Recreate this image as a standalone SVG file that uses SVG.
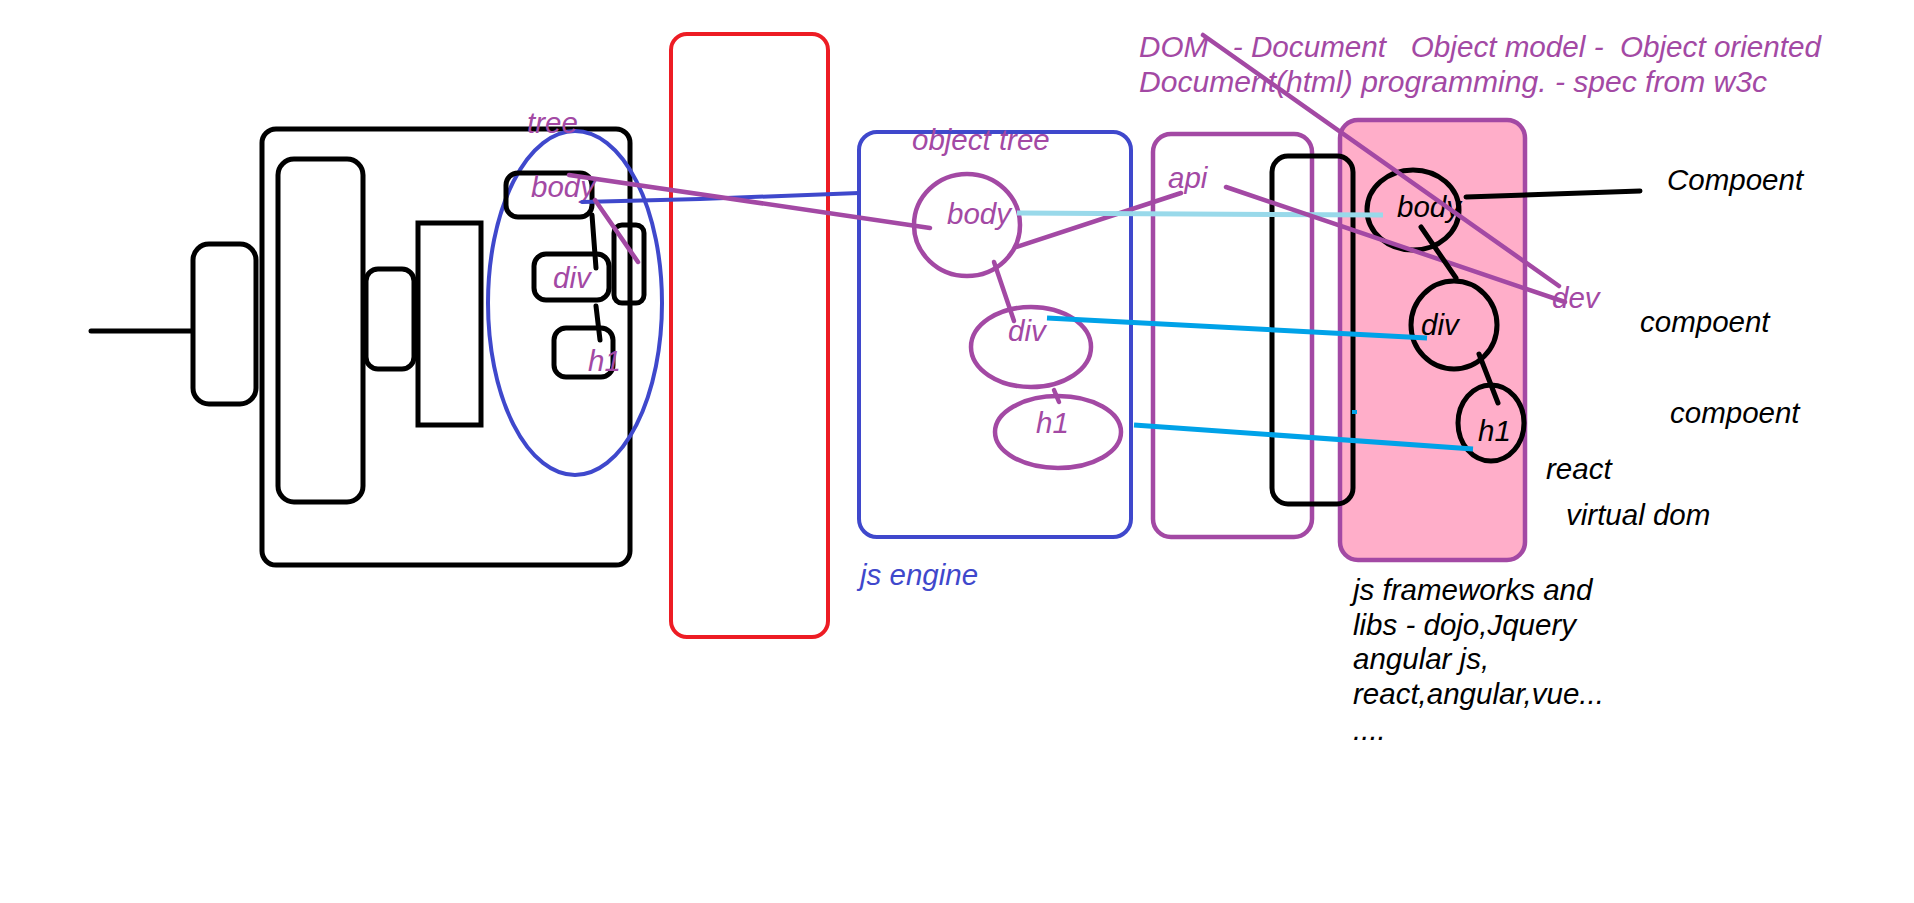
<svg xmlns="http://www.w3.org/2000/svg" width="1914" height="903" viewBox="0 0 1914 903">
<style>
text{font-family:"Liberation Sans",Arial,sans-serif;font-style:italic;font-size:29.5px}
.k{fill:none;stroke:#000;stroke-width:5;stroke-linecap:round}
.p{fill:none;stroke:#A349A4;stroke-width:4.5;stroke-linecap:round}
.b{fill:none;stroke:#3F48CC;stroke-width:4;stroke-linecap:round}
.r{fill:none;stroke:#ED1C24;stroke-width:4}
.tp{fill:#A349A4}
.tk{fill:#000}
.tb{fill:#3F48CC}
</style>
<rect width="1914" height="903" fill="#fff"/>
<g id="browser">
<rect class="k" x="262" y="129" width="368" height="436" rx="14"/>
<rect class="k" x="193" y="244" width="63" height="160" rx="16"/>
<rect class="k" x="278" y="159" width="85" height="343" rx="16"/>
<rect class="k" x="366" y="269" width="48" height="100" rx="12"/>
<rect class="k" x="418" y="223" width="63" height="202"/>
<rect class="k" x="614" y="225" width="30" height="78" rx="8"/>
</g>
<g id="dom-tree">
<ellipse class="b" cx="575" cy="303" rx="87" ry="172"/>
<text class="tp" x="527" y="133">tree</text>
</g>
<g id="body-node">
<rect class="k" x="506" y="173" width="86" height="44" rx="12"/>
<text class="tp" x="531" y="197">body</text>
</g>
<g id="div-node">
<rect class="k" x="534" y="254" width="75" height="46" rx="12"/>
<text class="tp" x="553" y="288">div</text>
</g>
<g id="h1-node">
<rect class="k" x="554" y="328" width="59" height="49" rx="12"/>
<text class="tp" x="588" y="371">h1</text>
</g>
<g id="red-box">
<rect class="r" x="671" y="34" width="157" height="603" rx="16"/>
</g>
<g id="js-engine">
<rect class="b" x="859" y="132" width="272" height="405" rx="18"/>
<text class="tp" x="912" y="150">object tree</text>
<text class="tb" x="860" y="585">js engine</text>
</g>
<g id="obj-body">
<ellipse class="p" cx="967" cy="225" rx="53" ry="51"/>
<text class="tp" x="947" y="224">body</text>
</g>
<g id="obj-div">
<ellipse class="p" cx="1031" cy="347" rx="60" ry="40"/>
<text class="tp" x="1008" y="341">div</text>
</g>
<g id="obj-h1">
<ellipse class="p" cx="1058" cy="432" rx="63" ry="36"/>
<text class="tp" x="1036" y="433">h1</text>
</g>
<g id="api">
<rect class="p" x="1153" y="134" width="159" height="403" rx="18"/>
<text class="tp" x="1168" y="188">api</text>
</g>
<g id="frameworks">
<rect x="1340" y="120" width="185" height="440" rx="18" fill="#FFAEC9" stroke="#A349A4" stroke-width="4.5"/>
</g>
<g id="api-layer">
<rect class="k" x="1272" y="156" width="81" height="348" rx="16"/>
</g>
<g id="v-body">
<ellipse class="k" cx="1413" cy="210" rx="46" ry="40"/>
<text class="tk" x="1397" y="217">body</text>
</g>
<g id="v-div">
<ellipse class="k" cx="1454" cy="325" rx="43" ry="44"/>
<text class="tk" x="1421" y="335">div</text>
</g>
<g id="v-h1">
<ellipse class="k" cx="1491" cy="423" rx="33" ry="38"/>
<text class="tk" x="1478" y="441">h1</text>
</g>
<g id="dom-note">
<text class="tp" x="1139" y="57" xml:space="preserve" textLength="682" lengthAdjust="spacingAndGlyphs">DOM   - Document   Object model -  Object oriented</text>
<text class="tp" x="1139" y="92" textLength="628" lengthAdjust="spacingAndGlyphs">Document(html) programming. - spec from w3c</text>
</g>
<g id="dev">
<text class="tp" x="1552" y="308">dev</text>
</g>
<g id="labels">
<text class="tk" x="1667" y="190">Compoent</text>
<text class="tk" x="1640" y="332">compoent</text>
<text class="tk" x="1670" y="423">compoent</text>
<text class="tk" x="1546" y="479">react</text>
<text class="tk" x="1566" y="525">virtual dom</text>
<text class="tk" x="1353" y="600">js frameworks and</text>
<text class="tk" x="1353" y="635">libs - dojo,Jquery</text>
<text class="tk" x="1353" y="669">angular js,</text>
<text class="tk" x="1353" y="704">react,angular,vue...</text>
<text class="tk" x="1353" y="740">....</text>
</g>
<g id="connectors">
<line class="k" x1="91" y1="331" x2="192" y2="331"/>
<line class="k" x1="592" y1="215" x2="596" y2="268"/>
<line class="k" x1="596" y1="306" x2="600" y2="340"/>
<polyline class="b" points="582,202 700,199 859,193"/>
<line class="p" x1="569" y1="175" x2="930" y2="228"/>
<line class="p" x1="595" y1="200" x2="638" y2="262"/>
<line class="p" x1="1016" y1="247" x2="1181" y2="193"/>
<line class="p" x1="994" y1="262" x2="1014" y2="321"/>
<line class="p" x1="1054" y1="390" x2="1059" y2="402"/>
<line x1="1017" y1="213" x2="1383" y2="215" stroke="#99D9EA" stroke-width="5"/>
<line x1="1047" y1="318" x2="1427" y2="338" stroke="#00A2E8" stroke-width="5"/>
<line x1="1134" y1="425" x2="1473" y2="449" stroke="#00A2E8" stroke-width="5"/>
<line x1="1352" y1="412" x2="1357" y2="412" stroke="#00A2E8" stroke-width="4"/>
<line class="p" x1="1203" y1="35" x2="1559" y2="286"/>
<line class="p" x1="1226" y1="187" x2="1565" y2="302"/>
<line class="k" x1="1466" y1="197" x2="1640" y2="191"/>
<line class="k" x1="1421" y1="227" x2="1456" y2="278"/>
<line class="k" x1="1479" y1="354" x2="1498" y2="403"/>
</g>
</svg>
